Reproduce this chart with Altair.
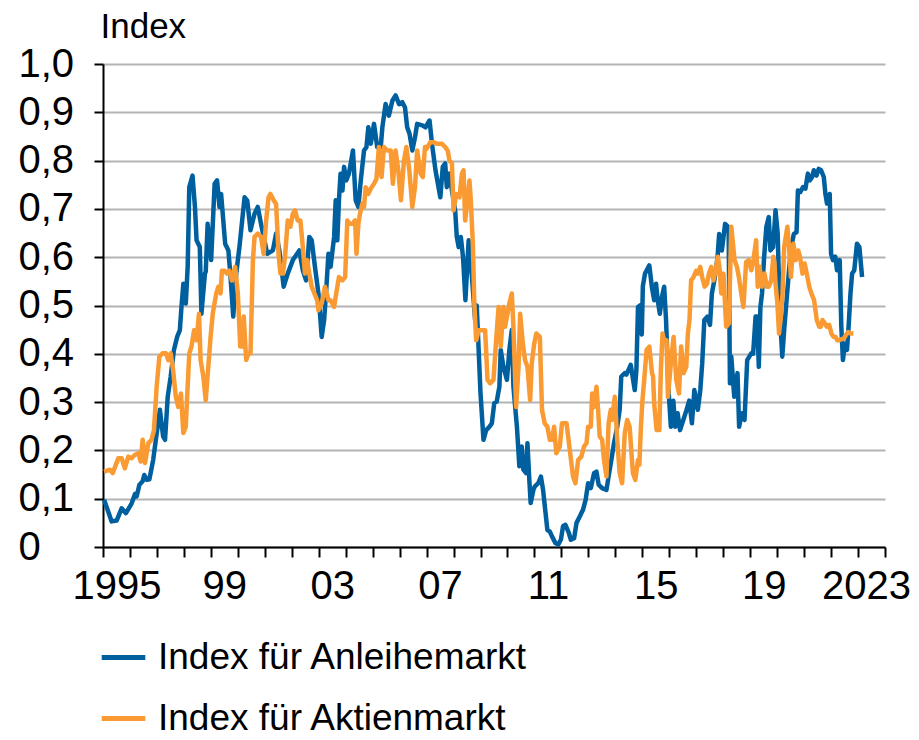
import altair as alt
import pandas as pd

# Index für Anleihemarkt (decimal year, value)
bond_t = [1995.04, 1995.32, 1995.51, 1995.69, 1995.85, 1996.06, 1996.19, 1996.25, 1996.35, 1996.47,
          1996.53, 1996.62, 1996.72, 1996.86, 1996.96, 1997.11, 1997.23, 1997.30, 1997.40, 1997.51,
          1997.63, 1997.75, 1997.85, 1997.91, 1997.98, 1998.07, 1998.14, 1998.20, 1998.32, 1998.41,
          1998.47, 1998.59, 1998.65, 1998.78, 1998.81, 1998.88, 1999.01, 1999.14, 1999.23, 1999.32,
          1999.38, 1999.53, 1999.65, 1999.73, 1999.83, 1999.94, 2000.06, 2000.25, 2000.35, 2000.47,
          2000.62, 2000.74, 2000.86, 2001.09, 2001.30, 2001.42, 2001.54, 2001.70, 2001.85, 2002.04,
          2002.28, 2002.41, 2002.53, 2002.65, 2002.74, 2002.86, 2002.99, 2003.11, 2003.20, 2003.27,
          2003.36, 2003.44, 2003.57, 2003.63, 2003.69, 2003.75, 2003.81, 2003.88, 2003.94, 2004.02,
          2004.12, 2004.27, 2004.37, 2004.47, 2004.56, 2004.68, 2004.77, 2004.84, 2004.93, 2005.05,
          2005.17, 2005.30, 2005.36, 2005.48, 2005.60, 2005.73, 2005.85, 2005.98, 2006.10, 2006.20,
          2006.28, 2006.37, 2006.47, 2006.57, 2006.65, 2006.84, 2006.96, 2007.11, 2007.20, 2007.33,
          2007.51, 2007.60, 2007.69, 2007.75, 2007.85, 2007.94, 2008.06, 2008.12, 2008.19, 2008.27,
          2008.35, 2008.44, 2008.56, 2008.68, 2008.80, 2008.86, 2009.00, 2009.11, 2009.21, 2009.33,
          2009.42, 2009.51, 2009.60, 2009.70, 2009.75, 2009.85, 2009.98, 2010.07, 2010.16, 2010.22,
          2010.35, 2010.44, 2010.53, 2010.59, 2010.69, 2010.74, 2010.81, 2010.86, 2010.96, 2011.01,
          2011.14, 2011.24, 2011.32, 2011.48, 2011.57, 2011.65, 2011.78, 2011.88, 2011.98, 2012.06,
          2012.15, 2012.27, 2012.35, 2012.47, 2012.56, 2012.68, 2012.80, 2012.90, 2012.99, 2013.09,
          2013.21, 2013.30, 2013.38, 2013.51, 2013.67, 2013.75, 2013.85, 2013.95, 2014.07, 2014.16,
          2014.22, 2014.35, 2014.41, 2014.57, 2014.72, 2014.78, 2014.84, 2014.91, 2014.98, 2015.02,
          2015.10, 2015.26, 2015.36, 2015.44, 2015.51, 2015.57, 2015.65, 2015.73, 2015.81, 2015.88,
          2015.98, 2016.06, 2016.15, 2016.22, 2016.31, 2016.40, 2016.52, 2016.64, 2016.74, 2016.84,
          2016.93, 2017.06, 2017.15, 2017.22, 2017.30, 2017.41, 2017.51, 2017.58, 2017.67, 2017.79,
          2017.85, 2017.95, 2018.07, 2018.20, 2018.25, 2018.30, 2018.41, 2018.53, 2018.59, 2018.69,
          2018.79, 2018.89, 2019.04, 2019.11, 2019.20, 2019.26, 2019.32, 2019.38, 2019.44, 2019.51,
          2019.60, 2019.69, 2019.75, 2019.85, 2019.94, 2020.02, 2020.10, 2020.19, 2020.27, 2020.35,
          2020.43, 2020.52, 2020.62, 2020.72, 2020.77, 2020.86, 2020.96, 2021.05, 2021.14, 2021.21,
          2021.30, 2021.36, 2021.46, 2021.54, 2021.63, 2021.73, 2021.79, 2021.85, 2021.95, 2022.00,
          2022.07, 2022.16, 2022.22, 2022.32, 2022.38, 2022.44, 2022.51, 2022.59, 2022.65, 2022.72,
          2022.78, 2022.86, 2022.96, 2023.05, 2023.15]
bond_v = [0.098, 0.053, 0.055, 0.080, 0.070, 0.090, 0.110, 0.105, 0.129, 0.136,
          0.149, 0.139, 0.140, 0.180, 0.222, 0.284, 0.229, 0.222, 0.311, 0.353,
          0.408, 0.435, 0.449, 0.497, 0.545, 0.504, 0.580, 0.745, 0.769, 0.704,
          0.635, 0.621, 0.483, 0.566, 0.570, 0.669, 0.594, 0.752, 0.759, 0.704,
          0.731, 0.628, 0.614, 0.559, 0.477, 0.566, 0.621, 0.724, 0.717, 0.656,
          0.690, 0.704, 0.669, 0.607, 0.614, 0.649, 0.614, 0.539, 0.566, 0.594,
          0.614, 0.573, 0.552, 0.642, 0.635, 0.580, 0.525, 0.435, 0.470, 0.525,
          0.607, 0.580, 0.642, 0.718, 0.635, 0.718, 0.773, 0.738, 0.787, 0.759,
          0.773, 0.821, 0.718, 0.704, 0.759, 0.821, 0.828, 0.869, 0.835, 0.876,
          0.828, 0.828, 0.869, 0.917, 0.893, 0.924, 0.935, 0.917, 0.921, 0.910,
          0.869, 0.855, 0.821, 0.848, 0.876, 0.873, 0.869, 0.883, 0.835, 0.780,
          0.724, 0.787, 0.794, 0.745, 0.773, 0.738, 0.697, 0.642, 0.621, 0.642,
          0.601, 0.511, 0.635, 0.560, 0.470, 0.500, 0.318, 0.222, 0.242, 0.249,
          0.256, 0.298, 0.301, 0.332, 0.408, 0.373, 0.346, 0.408, 0.449, 0.332,
          0.249, 0.167, 0.208, 0.160, 0.153, 0.215, 0.139, 0.091, 0.118, 0.125,
          0.132, 0.146, 0.118, 0.035, 0.032, 0.022, 0.008, 0.005, 0.015, 0.043,
          0.046, 0.030, 0.015, 0.018, 0.050, 0.063, 0.077, 0.098, 0.132, 0.122,
          0.153, 0.156, 0.129, 0.122, 0.118, 0.146, 0.180, 0.215, 0.249, 0.284,
          0.353, 0.360, 0.357, 0.377, 0.325, 0.366, 0.497, 0.500, 0.440, 0.540,
          0.566, 0.583, 0.536, 0.511, 0.545, 0.511, 0.483, 0.518, 0.539, 0.470,
          0.318, 0.249, 0.303, 0.249, 0.277, 0.242, 0.263, 0.284, 0.303, 0.256,
          0.325, 0.284, 0.325, 0.379, 0.470, 0.477, 0.460, 0.525, 0.552, 0.600,
          0.648, 0.614, 0.669, 0.662, 0.339, 0.394, 0.311, 0.360, 0.249, 0.277,
          0.263, 0.387, 0.401, 0.400, 0.477, 0.477, 0.373, 0.497, 0.525, 0.594,
          0.663, 0.683, 0.614, 0.621, 0.697, 0.649, 0.483, 0.394, 0.456, 0.511,
          0.566, 0.621, 0.648, 0.652, 0.738, 0.735, 0.745, 0.742, 0.773, 0.759,
          0.766, 0.780, 0.769, 0.783, 0.780, 0.766, 0.731, 0.711, 0.731, 0.607,
          0.594, 0.601, 0.573, 0.594, 0.456, 0.387, 0.421, 0.408, 0.456, 0.525,
          0.566, 0.573, 0.628, 0.621, 0.559]

# Index für Aktienmarkt (decimal year, value)
equity_t = [1995.04, 1995.26, 1995.36, 1995.57, 1995.69, 1995.81, 1995.94, 1996.06, 1996.19, 1996.31,
            1996.40, 1996.47, 1996.56, 1996.68, 1996.80, 1996.89, 1996.99, 1997.09, 1997.21, 1997.33,
            1997.42, 1997.51, 1997.60, 1997.70, 1997.79, 1997.89, 1997.98, 1998.07, 1998.12, 1998.20,
            1998.28, 1998.38, 1998.47, 1998.56, 1998.62, 1998.72, 1998.81, 1998.99, 1999.07, 1999.20,
            1999.28, 1999.36, 1999.41, 1999.51, 1999.60, 1999.69, 1999.78, 1999.90, 2000.00, 2000.09,
            2000.15, 2000.22, 2000.31, 2000.40, 2000.47, 2000.56, 2000.62, 2000.74, 2000.86, 2000.96,
            2001.05, 2001.14, 2001.21, 2001.33, 2001.42, 2001.51, 2001.58, 2001.67, 2001.75, 2001.85,
            2001.95, 2002.04, 2002.12, 2002.22, 2002.32, 2002.41, 2002.49, 2002.57, 2002.65, 2002.74,
            2002.84, 2002.94, 2002.99, 2003.11, 2003.23, 2003.36, 2003.44, 2003.57, 2003.65, 2003.75,
            2003.88, 2003.98, 2004.06, 2004.15, 2004.25, 2004.35, 2004.40, 2004.47, 2004.53, 2004.62,
            2004.68, 2004.74, 2004.84, 2004.93, 2005.05, 2005.14, 2005.23, 2005.33, 2005.42, 2005.54,
            2005.67, 2005.75, 2005.85, 2005.95, 2006.05, 2006.16, 2006.25, 2006.36, 2006.47, 2006.57,
            2006.65, 2006.78, 2006.86, 2006.94, 2006.99, 2007.14, 2007.26, 2007.38, 2007.57, 2007.69,
            2007.78, 2007.85, 2007.94, 2008.00, 2008.10, 2008.22, 2008.31, 2008.37, 2008.43, 2008.52,
            2008.59, 2008.64, 2008.72, 2008.77, 2008.84, 2008.93, 2009.05, 2009.17, 2009.26, 2009.36,
            2009.48, 2009.58, 2009.67, 2009.75, 2009.85, 2009.91, 2010.00, 2010.07, 2010.16, 2010.22,
            2010.32, 2010.41, 2010.47, 2010.57, 2010.65, 2010.74, 2010.84, 2010.90, 2010.99, 2011.07,
            2011.20, 2011.28, 2011.38, 2011.48, 2011.57, 2011.65, 2011.73, 2011.81, 2011.94, 2012.02,
            2012.19, 2012.31, 2012.43, 2012.52, 2012.62, 2012.74, 2012.84, 2012.93, 2012.99, 2013.09,
            2013.14, 2013.21, 2013.30, 2013.36, 2013.42, 2013.51, 2013.58, 2013.67, 2013.75, 2013.83,
            2013.88, 2013.98, 2014.07, 2014.16, 2014.25, 2014.35, 2014.44, 2014.53, 2014.65, 2014.74,
            2014.84, 2014.89, 2014.95, 2015.00, 2015.07, 2015.16, 2015.26, 2015.36, 2015.40, 2015.44,
            2015.53, 2015.63, 2015.69, 2015.75, 2015.81, 2015.90, 2015.95, 2016.07, 2016.16, 2016.26,
            2016.36, 2016.44, 2016.53, 2016.63, 2016.69, 2016.75, 2016.81, 2016.90, 2017.00, 2017.06,
            2017.15, 2017.22, 2017.31, 2017.40, 2017.47, 2017.56, 2017.64, 2017.72, 2017.80, 2017.86,
            2017.93, 2018.01, 2018.11, 2018.21, 2018.30, 2018.42, 2018.51, 2018.58, 2018.67, 2018.75,
            2018.85, 2018.95, 2019.04, 2019.12, 2019.22, 2019.28, 2019.35, 2019.44, 2019.53, 2019.62,
            2019.69, 2019.78, 2019.86, 2019.90, 2019.94, 2020.01, 2020.07, 2020.14, 2020.20, 2020.26,
            2020.32, 2020.38, 2020.44, 2020.51, 2020.60, 2020.69, 2020.78, 2020.85, 2020.94, 2021.02,
            2021.10, 2021.19, 2021.27, 2021.37, 2021.47, 2021.56, 2021.62, 2021.68, 2021.77, 2021.84,
            2021.93, 2022.01, 2022.09, 2022.17, 2022.23, 2022.30, 2022.38, 2022.48, 2022.54, 2022.63,
            2022.73, 2022.83, 2022.91, 2023.00, 2023.07, 2023.16]
equity_v = [0.156, 0.160, 0.153, 0.184, 0.184, 0.163, 0.187, 0.184, 0.191, 0.194,
            0.177, 0.222, 0.174, 0.215, 0.222, 0.242, 0.332, 0.394, 0.401, 0.401,
            0.387, 0.401, 0.366, 0.311, 0.290, 0.318, 0.236, 0.249, 0.311, 0.401,
            0.415, 0.449, 0.428, 0.483, 0.387, 0.353, 0.304, 0.435, 0.483, 0.525,
            0.539, 0.525, 0.572, 0.572, 0.566, 0.572, 0.552, 0.580, 0.525, 0.415,
            0.415, 0.477, 0.387, 0.401, 0.401, 0.594, 0.642, 0.649, 0.642, 0.607,
            0.676, 0.724, 0.731, 0.718, 0.710, 0.607, 0.566, 0.566, 0.601, 0.676,
            0.663, 0.690, 0.697, 0.676, 0.676, 0.621, 0.566, 0.594, 0.566, 0.539,
            0.525, 0.511, 0.490, 0.504, 0.539, 0.511, 0.511, 0.497, 0.525, 0.559,
            0.552, 0.559, 0.676, 0.669, 0.669, 0.676, 0.607, 0.669, 0.690, 0.711,
            0.704, 0.745, 0.731, 0.742, 0.752, 0.762, 0.828, 0.766, 0.828, 0.821,
            0.821, 0.752, 0.821, 0.780, 0.718, 0.800, 0.828, 0.780, 0.704, 0.745,
            0.821, 0.773, 0.766, 0.828, 0.824, 0.838, 0.838, 0.835, 0.835, 0.828,
            0.821, 0.800, 0.794, 0.697, 0.731, 0.724, 0.773, 0.780, 0.676, 0.718,
            0.759, 0.718, 0.621, 0.504, 0.428, 0.449, 0.449, 0.449, 0.346, 0.339,
            0.346, 0.428, 0.497, 0.415, 0.497, 0.456, 0.483, 0.504, 0.525, 0.456,
            0.290, 0.373, 0.483, 0.421, 0.387, 0.373, 0.304, 0.380, 0.421, 0.442,
            0.435, 0.284, 0.256, 0.249, 0.222, 0.222, 0.249, 0.194, 0.208, 0.256,
            0.256, 0.201, 0.146, 0.132, 0.180, 0.187, 0.208, 0.215, 0.249, 0.249,
            0.318, 0.290, 0.332, 0.284, 0.229, 0.222, 0.180, 0.146, 0.256, 0.284,
            0.263, 0.311, 0.222, 0.153, 0.132, 0.236, 0.263, 0.249, 0.153, 0.139,
            0.180, 0.170, 0.250, 0.300, 0.346, 0.408, 0.415, 0.360, 0.353, 0.297,
            0.242, 0.242, 0.370, 0.442, 0.428, 0.428, 0.311, 0.387, 0.435, 0.346,
            0.318, 0.415, 0.360, 0.373, 0.442, 0.470, 0.552, 0.559, 0.572, 0.566,
            0.580, 0.559, 0.539, 0.545, 0.566, 0.580, 0.552, 0.572, 0.601, 0.580,
            0.525, 0.566, 0.456, 0.463, 0.663, 0.594, 0.580, 0.559, 0.525, 0.497,
            0.590, 0.594, 0.573, 0.594, 0.635, 0.539, 0.580, 0.539, 0.566, 0.539,
            0.539, 0.552, 0.601, 0.587, 0.545, 0.504, 0.442, 0.477, 0.525, 0.621,
            0.642, 0.663, 0.621, 0.559, 0.628, 0.594, 0.614, 0.600, 0.566, 0.587,
            0.566, 0.539, 0.525, 0.511, 0.470, 0.456, 0.456, 0.470, 0.463, 0.456,
            0.460, 0.442, 0.435, 0.435, 0.428, 0.428, 0.430, 0.432, 0.438, 0.445,
            0.442, 0.442]

series_names = ["Index für Anleihemarkt", "Index für Aktienmarkt"]
series_colors = ["#00609f", "#f99b32"]
year_ticks = list(range(1995, 2025))

n_eq = min(len(equity_t), len(equity_v))
n_bd = min(len(bond_t), len(bond_v))
df = pd.concat([
    pd.DataFrame({"t": bond_t[:n_bd], "v": bond_v[:n_bd], "s": series_names[0]}),
    pd.DataFrame({"t": equity_t[:n_eq], "v": equity_v[:n_eq], "s": series_names[1]}),
])

FONT = "Liberation Sans"

x_label_offset = {"condition": {"test": "datum.value == 2023", "value": 8}, "value": 13.5}

chart = alt.Chart(df).mark_line(strokeWidth=4.5, strokeJoin="round").encode(
    x=alt.X("t:Q",
            scale=alt.Scale(domain=[1995, 2024], nice=False, zero=False),
            axis=alt.Axis(values=year_ticks, format="d", grid=False,
                          labelExpr="datum.value == 1995 || datum.value == 2023 ? datum.label : ((datum.value - 1995) % 4 == 0 ? slice(datum.label, 2) : '')",
                          labelOffset=x_label_offset, labelFlush=False, labelOverlap=False, labelBound=False,
                          tickSize=10, tickWidth=2, tickColor="black",
                          domainColor="black", domainWidth=2,
                          labelFontSize=40, labelFont=FONT, labelColor="black",
                          labelPadding=9, title=None)),
    y=alt.Y("v:Q",
            scale=alt.Scale(domain=[0, 1], nice=False),
            axis=alt.Axis(values=[i / 10 for i in range(11)], grid=True,
                          gridColor="#b4b4b4", gridWidth=2,
                          labelExpr="datum.value == 0 ? '0' : replace(format(datum.value, '.1f'), '.', ',')",
                          tickSize=9, tickWidth=2, tickColor="black",
                          domainColor="black", domainWidth=2,
                          labelFontSize=40, labelFont=FONT, labelColor="black",
                          labelAlign="left", labelPadding=76,
                          title="Index", titleAngle=0, titleAlign="left", titleBaseline="top",
                          titleX=-3, titleY=-55, titleFont=FONT, titleFontSize=35,
                          titleFontWeight="normal", titleColor="black")),
    color=alt.Color("s:N",
                    scale=alt.Scale(domain=series_names, range=series_colors),
                    sort=series_names,
                    legend=alt.Legend(title=None, orient="none", legendX=-4, legendY=569,
                                      direction="vertical", symbolType="stroke",
                                      symbolStrokeWidth=5, symbolSize=1900, padding=0,
                                      labelFontSize=37, labelFont=FONT, labelColor="black",
                                      labelLimit=800, rowPadding=18, labelOffset=10)),
).properties(
    width=782, height=483,
    autosize=alt.AutoSizeParams(type="none"),
    padding={"left": 95, "top": 56, "right": 26, "bottom": 190},
).configure_view(stroke=None)

chart.save("out.html", embed_options={"renderer": "svg", "actions": False})
